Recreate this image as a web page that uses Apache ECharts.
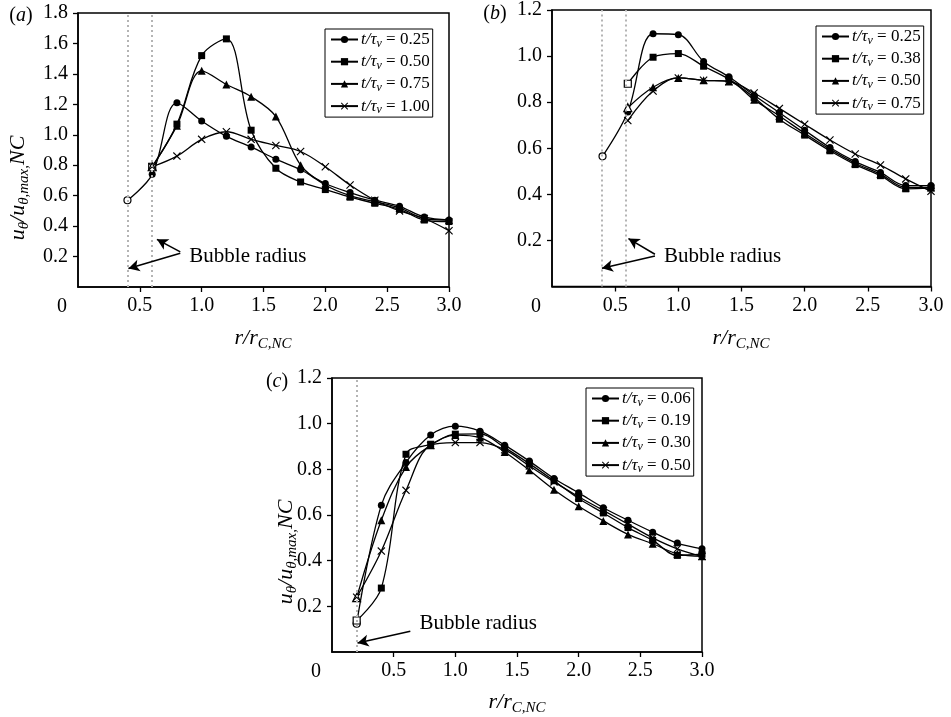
<!DOCTYPE html>
<html>
<head>
<meta charset="utf-8">
<script src="https://cdn.jsdelivr.net/npm/echarts@6/dist/echarts.min.js"></script>
<style>
html, body { margin: 0; padding: 0; background: #fff; }
#chart { width: 951px; height: 717px; }
</style>
</head>
<body>
<div id="chart"></div>
<script>
// radial positions r/r_C,NC
var rAB = [0.4, 0.6, 0.8, 1.0, 1.2, 1.4, 1.6, 1.8, 2.0, 2.2, 2.4, 2.6, 2.8, 3.0];
var rC = [0.2, 0.4, 0.6, 0.8, 1.0, 1.2, 1.4, 1.6, 1.8, 2.0, 2.2, 2.4, 2.6, 2.8, 3.0];

// (a)
var a025 = [0.57, 0.74, 1.21, 1.09, 0.99, 0.92, 0.84, 0.77, 0.68, 0.62, 0.57, 0.53, 0.46, 0.44];
var a050 = [null, 0.79, 1.07, 1.52, 1.63, 1.03, 0.78, 0.69, 0.64, 0.59, 0.55, 0.51, 0.44, 0.43];
var a075 = [null, 0.79, 1.06, 1.42, 1.33, 1.25, 1.12, 0.80, 0.67, 0.60, 0.56, 0.52, 0.45, 0.44];
var a100 = [null, 0.79, 0.86, 0.97, 1.02, 0.97, 0.93, 0.89, 0.79, 0.67, 0.57, 0.50, 0.45, 0.37];

// (b)
var b025 = [0.565, 0.757, 1.097, 1.093, 0.977, 0.91, 0.83, 0.754, 0.678, 0.603, 0.542, 0.495, 0.438, 0.438];
var b038 = [null, 0.88, 0.995, 1.011, 0.956, 0.90, 0.82, 0.726, 0.657, 0.589, 0.529, 0.481, 0.424, 0.428];
var b050 = [null, 0.776, 0.865, 0.905, 0.895, 0.89, 0.81, 0.74, 0.665, 0.596, 0.535, 0.488, 0.43, 0.43];
var b075 = [null, 0.72, 0.848, 0.905, 0.895, 0.89, 0.84, 0.773, 0.704, 0.636, 0.575, 0.527, 0.467, 0.413];

// (c)
var c006 = [0.124, 0.643, 0.83, 0.95, 0.989, 0.967, 0.906, 0.836, 0.76, 0.697, 0.632, 0.577, 0.525, 0.477, 0.452];
var c019 = [0.138, 0.28, 0.866, 0.91, 0.954, 0.955, 0.895, 0.825, 0.75, 0.672, 0.609, 0.545, 0.489, 0.423, 0.428];
var c030 = [0.238, 0.577, 0.81, 0.905, 0.95, 0.939, 0.876, 0.796, 0.711, 0.638, 0.574, 0.515, 0.474, 0.43, 0.419];
var c050 = [0.24, 0.442, 0.708, 0.905, 0.917, 0.917, 0.886, 0.815, 0.745, 0.68, 0.62, 0.56, 0.50, 0.452, 0.419];

var timesA = ['0.25', '0.50', '0.75', '1.00'];
var timesB = ['0.25', '0.38', '0.50', '0.75'];
var timesC = ['0.06', '0.19', '0.30', '0.50'];

var yMax = [1.8, 1.2, 1.2];
var xTicks = 0.5;
var bubbleLines = [[0.4, 0.6], [0.39, 0.58], [0.2]];

var font = 'Liberation Serif';
var crossPath = 'path://M0,1L1,0L5,4L9,0L10,1L6,5L10,9L9,10L5,6L1,10L0,9L4,5Z';
var symbols = [['circle', 7], ['rect', 7], ['triangle', 8], [crossPath, 8]];

var grids = [
    {left: 78, top: 13, width: 371, height: 274},
    {left: 552, top: 9, width: 379, height: 277.5},
    {left: 332, top: 378, width: 370, height: 274}
];

function makeSeries(panel, idx, t, xs, ys) {
    var pts = [];
    var first = true;
    for (var i = 0; i < xs.length; i++) {
        if (ys[i] == null) continue;
        if (first && idx < 3) {
            pts.push({value: [xs[i], ys[i]], itemStyle: {color: '#fff', borderColor: '#000', borderWidth: 1.2}});
        } else {
            pts.push([xs[i], ys[i]]);
        }
        first = false;
    }
    return {
        type: 'line',
        name: panel + '|' + t,
        xAxisIndex: panel,
        yAxisIndex: panel,
        data: pts,
        smooth: 0.35,
        symbol: symbols[idx][0],
        symbolSize: symbols[idx][1],
        symbolKeepAspect: true,
        showAllSymbol: true,
        itemStyle: {color: '#000'},
        lineStyle: {color: '#000', width: 1.3},
        z: 3
    };
}

var series = [];
[a025, a050, a075, a100].forEach(function(ys, i) { series.push(makeSeries(0, i, timesA[i], rAB, ys)); });
[b025, b038, b050, b075].forEach(function(ys, i) { series.push(makeSeries(1, i, timesB[i], rAB, ys)); });
[c006, c019, c030, c050].forEach(function(ys, i) { series.push(makeSeries(2, i, timesC[i], rC, ys)); });

// bubble-radius annotations (arrow start -> end, label anchor) in data coordinates
var arrows = [
    [[[0.827, 0.231], [0.638, 0.313]], [[0.827, 0.222], [0.408, 0.121]]],
    [[[0.815, 0.140], [0.605, 0.208]], [[0.815, 0.132], [0.395, 0.079]]],
    [[[0.635, 0.091], [0.207, 0.039]]]
];
var labelAt = [[0.9, 0.198], [0.886, 0.132], [0.71, 0.126]];

for (var p = 0; p < 3; p++) {
    var ml = bubbleLines[p].map(function(x) {
        return {xAxis: x, lineStyle: {color: '#b4b4b4', type: [2, 3], width: 2}};
    });
    arrows[p].forEach(function(a) {
        ml.push([
            {coord: a[0], symbol: 'none', lineStyle: {color: '#000', width: 1.5, type: 'solid'}},
            {coord: a[1], symbol: 'arrow', symbolSize: [9, 11]}
        ]);
    });
    series.push({
        type: 'line',
        xAxisIndex: p,
        yAxisIndex: p,
        data: [],
        silent: true,
        z: 2,
        markLine: {
            silent: true,
            symbol: ['none', 'none'],
            label: {show: false},
            animation: false,
            data: ml
        },
        markPoint: {
            silent: true,
            symbol: 'circle',
            symbolSize: 0,
            animation: false,
            label: {
                show: true, position: 'right', distance: 0,
                formatter: 'Bubble radius',
                color: '#000', fontFamily: font, fontSize: 21
            },
            data: [{coord: labelAt[p]}]
        }
    });
}

var xAxes = grids.map(function(g, i) {
    return {
        type: 'value', gridIndex: i, min: 0, max: 3, interval: xTicks,
        axisLine: {lineStyle: {color: '#000', width: 1.5}},
        axisTick: {show: true, length: 5, lineStyle: {color: '#000', width: 1.3}},
        axisLabel: {
            color: '#000', fontFamily: font, fontSize: 20, margin: 9, showMinLabel: false,
            formatter: function(v) { return v.toFixed(1); }
        },
        splitLine: {show: false}
    };
});
var yAxes = grids.map(function(g, i) {
    return {
        type: 'value', gridIndex: i, min: 0, max: yMax[i], interval: 0.2,
        axisLine: {lineStyle: {color: '#000', width: 1.5}},
        axisTick: {show: true, length: 5, lineStyle: {color: '#000', width: 1.3}},
        axisLabel: {
            color: '#000', fontFamily: font, fontSize: 20, margin: 10, showMinLabel: false,
            formatter: function(v) { return v.toFixed(1); }
        },
        splitLine: {show: false}
    };
});

var legendRich = {
    i: {fontFamily: font, fontStyle: 'italic', fontSize: 17, lineHeight: 20, color: '#000'},
    s: {fontFamily: font, fontStyle: 'italic', fontSize: 12, lineHeight: 11, verticalAlign: 'bottom', color: '#000'},
    n: {fontFamily: font, fontSize: 17, lineHeight: 20, color: '#000'}
};
function legendAt(panel, times, left, top) {
    return {
        orient: 'vertical', left: left, top: top,
        data: times.map(function(t) { return panel + '|' + t; }),
        selectedMode: false,
        borderColor: '#000', borderWidth: 1, padding: [2, 3, 1, 5],
        itemWidth: 27, itemHeight: 9, itemGap: 3.7,
        formatter: function(name) {
            return '{i|t/τ}{s|v}{n| = ' + name.split('|')[1] + '}';
        },
        textStyle: {rich: legendRich, padding: [0, 0, 0, -2]}
    };
}

var titleRich = {
    it: {fontFamily: font, fontStyle: 'italic', fontSize: 22, lineHeight: 28, color: '#000'},
    sb: {fontFamily: font, fontStyle: 'italic', fontSize: 15, lineHeight: 15, verticalAlign: 'bottom', color: '#000'},
    rm: {fontFamily: font, fontSize: 20, lineHeight: 26, color: '#000'},
    pl: {fontFamily: font, fontStyle: 'italic', fontSize: 20, lineHeight: 26, color: '#000'}
};
function textEl(x, y, text, rot) {
    return {
        type: 'text', x: x, y: y, rotation: rot || 0,
        style: {text: text, rich: titleRich, align: 'center', verticalAlign: 'middle', fill: '#000'}
    };
}
var xTitle = '{it|r/r}{sb|C,NC}';
var yTitle = '{it|u}{sb|θ}{it|/u}{sb|θ,max,}{it|NC}';

var graphics = [
    textEl(263, 338, xTitle),
    textEl(741, 338, xTitle),
    textEl(517, 702, xTitle),
    textEl(18, 188, yTitle, Math.PI / 2),
    textEl(286, 552, yTitle, Math.PI / 2),
    textEl(21, 16, '{rm|(}{pl|a}{rm|)}'),
    textEl(495, 14, '{rm|(}{pl|b}{rm|)}'),
    textEl(277, 382, '{rm|(}{pl|c}{rm|)}')
];
grids.forEach(function(g) {
    graphics.push({
        type: 'text', x: g.left - 16, y: g.top + g.height + 20,
        style: {text: '0', fontFamily: font, fontSize: 20, fill: '#000', align: 'center', verticalAlign: 'middle'}
    });
});

var chart = echarts.init(document.getElementById('chart'));
chart.setOption({
    animation: false,
    backgroundColor: '#fff',
    grid: grids.map(function(g) {
        return {left: g.left, top: g.top, width: g.width, height: g.height, show: true,
                borderColor: '#000', borderWidth: 1.5, backgroundColor: 'transparent'};
    }),
    xAxis: xAxes,
    yAxis: yAxes,
    legend: [
        legendAt(0, timesA, 325, 29),
        legendAt(1, timesB, 816, 26),
        legendAt(2, timesC, 586, 388)
    ],
    series: series,
    graphic: graphics
});
</script>
</body>
</html>
